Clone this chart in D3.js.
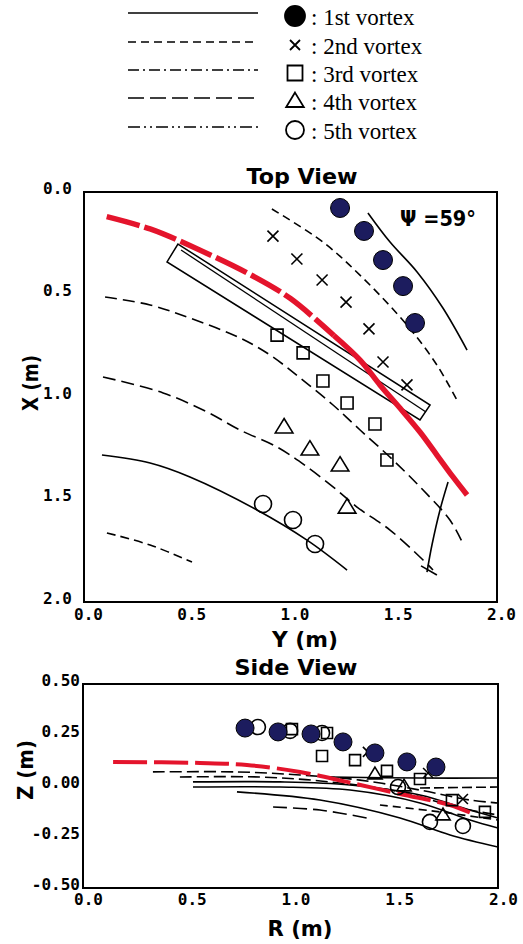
<!DOCTYPE html>
<html>
<head>
<meta charset="utf-8">
<script src="https://cdn.jsdelivr.net/npm/d3@7"></script>
<style>
  body { margin: 0; background: #fff; }
  .tick text { font-family: 'DejaVu Sans Mono', monospace; font-weight: bold; font-size: 16px; fill: #000; }
  .title { font-family: 'DejaVu Sans', sans-serif; font-weight: bold; font-size: 21px; fill: #000; }
  .legend { font-family: 'Liberation Serif', serif; font-size: 23px; fill: #000; }
</style>
</head>
<body>
<script>
// legend rows
const legendNames = ['1st vortex', '2nd vortex', '3rd vortex', '4th vortex', '5th vortex']
const legendDash = ['none', '8,5', '11,4,2,4', '16,6', '12,4,2,4,2,4']
const legendMarks = ['filled', 'cross', 'square', 'triangle', 'circle']

const tickTop = [0, 0.5, 1, 1.5, 2]
const tickSideZ = [-0.5, -0.25, 0, 0.25, 0.5]

// top view: points are [Y (m), X (m)]
const topRed = [[0.11, 0.12], [0.32, 0.18], [0.51, 0.26], [0.80, 0.40], [1.00, 0.52], [1.21, 0.70],
  [1.337, 0.820], [1.433, 0.941], [1.530, 1.054], [1.627, 1.171], [1.709, 1.283], [1.787, 1.390], [1.855, 1.478]]
const plateOutline = [[0.455, 0.254], [1.676, 1.039], [1.627, 1.112], [0.402, 0.341]]
const plateInner = [[0.47, 0.283], [1.656, 1.073]]

const topPath1 = [[1.375, 0.102], [1.482, 0.244], [1.613, 0.39], [1.738, 0.566], [1.855, 0.771]]
const topPath2 = [[0.910, 0.083], [1.157, 0.244], [1.351, 0.42], [1.564, 0.649], [1.709, 0.844], [1.806, 1.015]]
const topPath3 = [[0.102, 0.512], [0.320, 0.551], [0.513, 0.615], [0.755, 0.712], [0.901, 0.795], [1.046, 0.907],
  [1.206, 1.039], [1.337, 1.161], [1.496, 1.307], [1.642, 1.454], [1.772, 1.600], [1.831, 1.707]]
const topPath4 = [[0.092, 0.902], [0.383, 0.980], [0.596, 1.073], [0.755, 1.161], [0.935, 1.244], [1.080, 1.341],
  [1.225, 1.454], [1.322, 1.537], [1.482, 1.649], [1.642, 1.795], [1.690, 1.844]]
const topPath5 = [[0.087, 1.283], [0.320, 1.322], [0.513, 1.390], [0.838, 1.551], [1.080, 1.698], [1.274, 1.844]]
const topPath6 = [[0.111, 1.663], [0.320, 1.722], [0.523, 1.805]]
const topSteep = [[1.763, 1.415], [1.724, 1.551], [1.685, 1.722], [1.661, 1.854]]
const topSteepTick = [[1.632, 1.824], [1.709, 1.868]]

const top1st = [[1.24, 0.078], [1.356, 0.19], [1.448, 0.332], [1.545, 0.459], [1.603, 0.639]]
const top2nd = [[0.915, 0.215], [1.031, 0.327], [1.153, 0.429], [1.269, 0.537], [1.380, 0.668], [1.448, 0.829], [1.564, 0.941]]
const top3rd = [[0.935, 0.698], [1.061, 0.785], [1.157, 0.922], [1.274, 1.029], [1.409, 1.132], [1.467, 1.307]]
const top4th = [[0.969, 1.146], [1.094, 1.254], [1.240, 1.332], [1.274, 1.537]]
const top5th = [[0.867, 1.522], [1.012, 1.600], [1.119, 1.717]]

// side view: points are [R (m), Z (m)]
const sideRed = [[0.145, 0.118], [0.564, 0.113], [0.790, 0.103], [1.046, 0.069], [1.272, 0.020],
  [1.528, -0.039], [1.769, -0.093], [1.880, -0.137]]
const sideLines = [
  { dash: '12,5', pts: [[0.337, 0.069], [0.742, 0.069], [1.046, 0.054], [1.335, 0.029], [1.624, -0.020], [1.865, -0.069], [2.0, -0.083]] },
  { dash: '12,5', pts: [[0.467, 0.044], [0.853, 0.044], [1.190, 0.020], [1.528, -0.029], [1.817, -0.108], [2.0, -0.142]] },
  { dash: 'none', pts: [[0.530, 0.020], [0.949, 0.020], [1.287, 0.005], [1.624, -0.044], [1.865, -0.118], [2.0, -0.157]] },
  { dash: 'none', pts: [[0.530, -0.005], [0.949, -0.005], [1.287, -0.020], [1.624, -0.083], [1.865, -0.167], [2.0, -0.206]] },
  { dash: 'none', pts: [[0.742, -0.029], [1.142, -0.069], [1.528, -0.157], [1.769, -0.240], [2.0, -0.299]] },
  { dash: '14,6', pts: [[0.916, -0.103], [1.142, -0.118], [1.369, -0.157]] },
  { dash: 'none', pts: [[1.190, 0.044], [1.624, 0.039], [2.0, 0.039]] },
  { dash: '10,4', pts: [[1.624, -0.010], [2.0, -0.005]] },
  { dash: '8,5', pts: [[1.431, -0.093], [1.720, -0.127], [2.0, -0.167]] }
]

const side1st = [[0.781, 0.284], [0.940, 0.265], [1.099, 0.255], [1.253, 0.216], [1.407, 0.162], [1.561, 0.118], [1.701, 0.093]]
const side2nd = [[1.373, 0.167], [1.663, 0.064], [1.831, -0.064]]
const side3rd = [[1.007, 0.279], [1.176, 0.260], [1.152, 0.147], [1.311, 0.127], [1.465, 0.074], [1.624, 0.034], [1.778, -0.069], [1.937, -0.127]]
const side4th = [[1.407, 0.059], [1.547, 0.0], [1.735, -0.142]]
const side5th = [[0.843, 0.289], [0.998, 0.270], [1.152, 0.260], [1.518, -0.005], [1.672, -0.176], [1.831, -0.196]]

const navy = '#1c1c5e'
const red = '#e4142c'

const svg = d3.select('body').append('svg')
  .attr('width', 523)
  .attr('height', 944)

// marker shapes
function markerPath (type, s) {
  if (type === 'cross') return `M${-s},${-s}L${s},${s}M${-s},${s}L${s},${-s}`
  if (type === 'square') return `M${-s},${-s}H${s}V${s}H${-s}Z`
  if (type === 'triangle') return `M0,${-s * 1.05}L${s * 1.1},${s * 0.75}L${-s * 1.1},${s * 0.75}Z`
  return d3.arc()({ innerRadius: 0, outerRadius: s, startAngle: 0, endAngle: 2 * Math.PI })
}

function drawMarkers (g, data, type, xs, ys, s) {
  g.selectAll(null)
    .data(data)
    .enter()
    .append('path')
    .attr('transform', d => `translate(${xs(d[0])},${ys(d[1])})`)
    .attr('d', markerPath(type, s))
    .attr('fill', type === 'filled' ? navy : 'none')
    .attr('stroke', '#000')
    .attr('stroke-width', type === 'filled' ? 1 : 1.6)
}

// ---------- legend ----------
const legend = svg.append('g')
legendNames.forEach(function (name, i) {
  const yl = [13, 42, 70, 98, 127][i]
  legend.append('line')
    .attr('x1', 128).attr('x2', 258)
    .attr('y1', yl).attr('y2', yl)
    .attr('stroke', '#000')
    .attr('stroke-width', 1.6)
    .attr('stroke-dasharray', legendDash[i])
  const m = legendMarks[i]
  const size = { filled: 10, cross: 5, square: 7.5, triangle: 8, circle: 9 }[m]
  legend.append('path')
    .attr('transform', `translate(295,${yl + 3})`)
    .attr('d', markerPath(m, size))
    .attr('fill', m === 'filled' ? '#000' : 'none')
    .attr('stroke', '#000')
    .attr('stroke-width', 1.8)
  legend.append('text')
    .attr('class', 'legend')
    .attr('x', 311)
    .attr('y', yl + 12)
    .text(': ' + name)
})

// ---------- top view ----------
const x1 = d3.scaleLinear().domain([0, 2]).range([84, 497])
const y1 = d3.scaleLinear().domain([0, 2]).range([192, 602])

svg.append('defs').append('clipPath').attr('id', 'clipTop')
  .append('rect').attr('x', 84).attr('y', 192).attr('width', 413).attr('height', 410)

const topView = svg.append('g')
const topPlot = topView.append('g').attr('clip-path', 'url(#clipTop)')
const line1 = d3.line().x(d => x1(d[0])).y(d => y1(d[1])).curve(d3.curveCatmullRom)

const topLines = [
  { pts: topPath1, dash: 'none' },
  { pts: topPath2, dash: '8,5' },
  { pts: topPath3, dash: '12,6' },
  { pts: topPath4, dash: '13,6' },
  { pts: topPath5, dash: 'none' },
  { pts: topPath6, dash: '9,5' },
  { pts: topSteep, dash: 'none' },
  { pts: topSteepTick, dash: 'none' }
]
topLines.forEach(function (l) {
  topPlot.append('path')
    .attr('d', line1(l.pts))
    .attr('fill', 'none')
    .attr('stroke', '#000')
    .attr('stroke-width', 1.6)
    .attr('stroke-dasharray', l.dash)
})

// plate
topPlot.append('path')
  .attr('d', d3.line().x(d => x1(d[0])).y(d => y1(d[1]))(plateOutline) + 'Z')
  .attr('fill', 'none').attr('stroke', '#000').attr('stroke-width', 1.5)
topPlot.append('path')
  .attr('d', d3.line().x(d => x1(d[0])).y(d => y1(d[1]))(plateInner))
  .attr('fill', 'none').attr('stroke', '#000').attr('stroke-width', 1.3)

// red path, dashed at first then solid
topPlot.append('path')
  .attr('d', line1(topRed.slice(0, 6)))
  .attr('fill', 'none').attr('stroke', red).attr('stroke-width', 5.5)
  .attr('stroke-dasharray', '34,5')
topPlot.append('path')
  .attr('d', line1(topRed.slice(5)))
  .attr('fill', 'none').attr('stroke', red).attr('stroke-width', 5.5)

drawMarkers(topPlot, top2nd, 'cross', x1, y1, 5.5)
drawMarkers(topPlot, top3rd, 'square', x1, y1, 6)
drawMarkers(topPlot, top4th, 'triangle', x1, y1, 8)
drawMarkers(topPlot, top5th, 'circle', x1, y1, 8.5)
drawMarkers(topPlot, top1st, 'filled', x1, y1, 9.5)

topView.append('rect')
  .attr('x', 84).attr('y', 192).attr('width', 413).attr('height', 410)
  .attr('fill', 'none').attr('stroke', '#000').attr('stroke-width', 2)

const topYAxis = topView.append('g')
  .attr('transform', 'translate(84,0)')
  .call(d3.axisLeft(y1).tickValues(tickTop).tickFormat(d => d.toFixed(1)).tickSize(0).tickPadding(12))
topYAxis.select('.domain').remove()
topYAxis.selectAll('text').attr('y', -4)

const topXAxis = topView.append('g')
  .attr('transform', 'translate(0,602)')
  .call(d3.axisBottom(x1).tickValues(tickTop).tickFormat(d => d.toFixed(1)).tickSize(0).tickPadding(7))
topXAxis.select('.domain').remove()
topXAxis.selectAll('text').attr('x', 4)

topView.append('text').attr('class', 'title')
  .attr('x', 302).attr('y', 184).attr('text-anchor', 'middle')
  .attr('textLength', 111).attr('lengthAdjust', 'spacingAndGlyphs')
  .text('Top View')
topView.append('text').attr('class', 'title')
  .attr('x', 305).attr('y', 647).attr('text-anchor', 'middle')
  .attr('textLength', 66).attr('lengthAdjust', 'spacingAndGlyphs')
  .text('Y (m)')
topView.append('text').attr('class', 'title')
  .attr('transform', 'translate(38,383) rotate(-90)').attr('text-anchor', 'middle')
  .attr('textLength', 56).attr('lengthAdjust', 'spacingAndGlyphs')
  .text('X (m)')
topView.append('text').attr('class', 'title')
  .attr('x', 400).attr('y', 226)
  .attr('textLength', 76).attr('lengthAdjust', 'spacingAndGlyphs')
  .text('Ψ =59°')

// ---------- side view ----------
const x2 = d3.scaleLinear().domain([0, 2]).range([83, 498])
const y2 = d3.scaleLinear().domain([-0.5, 0.5]).range([888, 684])

svg.select('defs').append('clipPath').attr('id', 'clipSide')
  .append('rect').attr('x', 83).attr('y', 684).attr('width', 415).attr('height', 204)

const sideView = svg.append('g')
const sidePlot = sideView.append('g').attr('clip-path', 'url(#clipSide)')
const line2 = d3.line().x(d => x2(d[0])).y(d => y2(d[1])).curve(d3.curveCatmullRom)

sideLines.forEach(function (l) {
  sidePlot.append('path')
    .attr('d', line2(l.pts))
    .attr('fill', 'none')
    .attr('stroke', '#000')
    .attr('stroke-width', 1.6)
    .attr('stroke-dasharray', l.dash)
})

sidePlot.append('path')
  .attr('d', line2(sideRed))
  .attr('fill', 'none').attr('stroke', red).attr('stroke-width', 4)
  .attr('stroke-dasharray', '34,7')

drawMarkers(sidePlot, side3rd, 'square', x2, y2, 5.5)
drawMarkers(sidePlot, side5th, 'circle', x2, y2, 7.5)
drawMarkers(sidePlot, side4th, 'triangle', x2, y2, 6.5)
drawMarkers(sidePlot, side2nd, 'cross', x2, y2, 5)
drawMarkers(sidePlot, side1st, 'filled', x2, y2, 9)

sideView.append('rect')
  .attr('x', 83).attr('y', 684).attr('width', 415).attr('height', 204)
  .attr('fill', 'none').attr('stroke', '#000').attr('stroke-width', 2)

const sideYAxis = sideView.append('g')
  .attr('transform', 'translate(83,0)')
  .call(d3.axisLeft(y2).tickValues(tickSideZ).tickFormat(d => d.toFixed(2)).tickSize(0).tickPadding(3))
sideYAxis.select('.domain').remove()
sideYAxis.selectAll('text').attr('y', -4)

const sideXAxis = sideView.append('g')
  .attr('transform', 'translate(0,888)')
  .call(d3.axisBottom(x2).tickValues(tickTop).tickFormat(d => d.toFixed(1)).tickSize(0).tickPadding(6))
sideXAxis.select('.domain').remove()
sideXAxis.selectAll('text').attr('x', 5)

sideView.append('text').attr('class', 'title')
  .attr('x', 296).attr('y', 675).attr('text-anchor', 'middle')
  .attr('textLength', 123).attr('lengthAdjust', 'spacingAndGlyphs')
  .text('Side View')
sideView.append('text').attr('class', 'title')
  .attr('x', 300).attr('y', 936).attr('text-anchor', 'middle')
  .attr('textLength', 65).attr('lengthAdjust', 'spacingAndGlyphs')
  .text('R (m)')
sideView.append('text').attr('class', 'title')
  .attr('transform', 'translate(33,770) rotate(-90)').attr('text-anchor', 'middle')
  .attr('textLength', 60).attr('lengthAdjust', 'spacingAndGlyphs')
  .text('Z (m)')
</script>
</body>
</html>
